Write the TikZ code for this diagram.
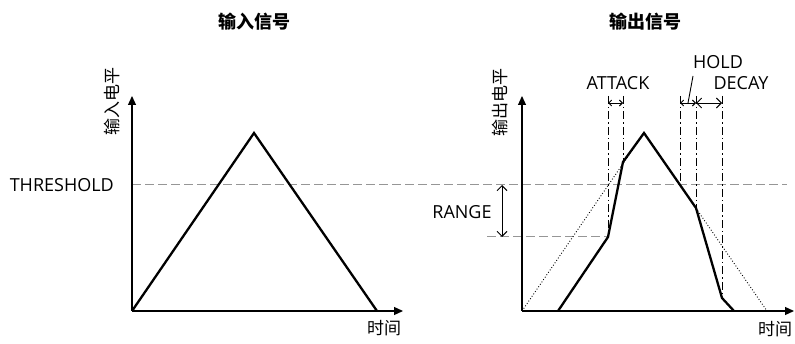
\documentclass[tikz,border=0pt]{standalone}
\usepackage{fontspec}
\setmainfont{Open Sans}
\newfontfamily\cjk{Noto Sans CJK SC}
\usetikzlibrary{arrows.meta, positioning}
\definecolor{guide}{RGB}{150,150,150}

\tikzset{
    axis/.style={line width=1.2pt, -{Triangle[length=9pt, width=8pt]}},
    signal/.style={line width=2.3pt, line join=miter},
    ghost/.style={line width=0.9pt, dotted},
    level/.style={guide, line width=1pt, dash pattern=on 9pt off 4pt},
    marker/.style={line width=1pt, dash pattern=on 8pt off 3pt on 1.5pt off 3pt},
    span/.style={line width=0.9pt, {Straight Barb[length=3pt]}-{Straight Barb[length=3pt]}},
    lbl/.style={font=\fontsize{18}{20}\selectfont, inner sep=0pt},
    cjklbl/.style={font=\cjk\fontsize{17}{19}\selectfont, inner sep=0pt},
    title/.style={font=\cjk\bfseries\fontsize{18}{20}\selectfont, inner sep=0pt}
}

\begin{document}
\begin{tikzpicture}[x=1pt, y=-1pt]
    \useasboundingbox (0,0) rectangle (795,344);

    % input side
    \coordinate (o1) at (132,311);
    \coordinate (y1) at (132,96);
    \coordinate (x1) at (403,311);
    \coordinate (p1) at (254,133);
    \coordinate (e1) at (377,311);

    % output side
    \coordinate (o2) at (522,311);
    \coordinate (y2) at (522,96);
    \coordinate (x2) at (794,311);
    \coordinate (p2) at (644,133);
    \coordinate (e2) at (767,311);
    \coordinate (s2) at (558,311);
    \coordinate (a1) at (608,237);
    \coordinate (a2) at (623,162);
    \coordinate (h1) at (680,185);
    \coordinate (h2) at (696,208);
    \coordinate (d1) at (722,298);
    \coordinate (f2) at (734,311);
    \coordinate (top) at (0,96);
    \coordinate (tick) at (0,103);

    \node[title] (in title) at (254,22) {输入信号};
    \node[title] (out title) at (645,22) {输出信号};

    % threshold and range levels
    \coordinate (thr start) at (132,185);
    \coordinate (thr end) at (787,185);
    \coordinate (rng start) at (487,237);
    \draw[level] (thr start) -- (thr end);
    \draw[level] (rng start) -- (a1);
    \node[lbl, anchor=east] (threshold) at (114,185) {THRESHOLD};

    \coordinate (rng top) at (502,185);
    \coordinate (rng bot) at (502,237);
    \draw[line width=1pt, {Straight Barb[length=5pt]}-{Straight Barb[length=5pt]}] (rng top) -- (rng bot);
    \node[lbl] (range) at (462,212) {RANGE};

    % axes
    \draw[axis] (o1) -- (y1);
    \draw[axis] (o1) -- (x1);
    \draw[axis] (o2) -- (y2);
    \draw[axis] (o2) -- (x2);
    \node[cjklbl, rotate=90] (in level) at (112,102) {输入电平};
    \node[cjklbl, rotate=90] (out level) at (500,103) {输出电平};
    \node[cjklbl] (in time) at (384,328) {时间};
    \node[cjklbl] (out time) at (775,329) {时间};

    % signals
    \draw[signal] (o1) -- (p1) -- (e1);
    \draw[ghost] (o2) -- (p2) -- (e2);
    \draw[signal] (s2) -- (a1) -- (a2) -- (p2) -- (h2) -- (d1) -- (f2);

    % time markers
    \foreach \pt in {a1, a2, h1, h2, d1}
        \draw[marker] (\pt |- top) -- (\pt);
    \draw[span] (a1 |- tick) -- (a2 |- tick);
    \draw[span] (h1 |- tick) -- (h2 |- tick);
    \draw[line width=0.9pt, {Straight Barb[length=5pt]}-{Straight Barb[length=5pt]}] (h2 |- tick) -- (d1 |- tick);

    \node[lbl] (attack) at (618,83) {ATTACK};
    \node[lbl] (hold) at (718,62) {HOLD};
    \node[lbl] (decay) at (741,83) {DECAY};
    \coordinate (hold top) at (693,76);
    \coordinate (hold foot) at (688,103);
    \draw[line width=0.9pt] (hold top) -- (hold foot);
\end{tikzpicture}
\end{document}
